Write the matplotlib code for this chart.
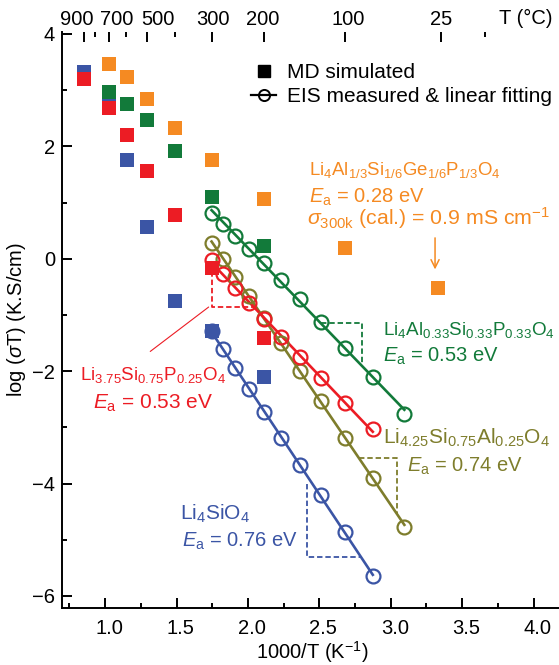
import numpy as np
import matplotlib.pyplot as plt
from matplotlib.lines import Line2D
from matplotlib.transforms import ScaledTranslation

plt.rcParams['font.family'] = 'Liberation Sans'
plt.rcParams['mathtext.fontset'] = 'custom'
plt.rcParams['mathtext.rm'] = 'Liberation Sans'
plt.rcParams['mathtext.it'] = 'Liberation Sans:italic'
plt.rcParams['mathtext.bf'] = 'Liberation Sans:bold'
plt.rcParams['font.size'] = 14.5

# MD simulated points (1000/T, log(sigma T))
md_x = [0.85, 1.03, 1.15, 1.29, 1.49, 1.745, 2.114]
md_blue = [3.33, 2.82, 1.76, 0.57, -0.76, -1.29, -2.10]
md_red = [3.19, 2.69, 2.21, 1.56, 0.78, -0.17, -1.41]
md_green_x = [1.03, 1.15, 1.29, 1.49, 1.745, 2.114]
md_green = [2.96, 2.76, 2.46, 1.92, 1.09, 0.23]
md_orange_x = [1.03, 1.15, 1.29, 1.49, 1.745, 2.114, 2.681, 3.333]
md_orange = [3.46, 3.23, 2.85, 2.33, 1.75, 1.07, 0.19, -0.53]

# EIS measured points
eis_x = [1.745, 1.825, 1.912, 2.004, 2.114, 2.232, 2.364, 2.509, 2.681, 2.874, 3.095]
eis_green = [0.82, 0.62, 0.41, 0.18, -0.08, -0.38, -0.72, -1.12, -1.58, -2.10, -2.76]
eis_olive = [0.28, 0.00, -0.33, -0.66, -1.05, -1.50, -1.99, -2.53, -3.19, -3.90, -4.77]
eis_red = [-0.02, -0.27, -0.52, -0.78, -1.08, -1.40, -1.74, -2.12, -2.57, -3.03]
eis_blue = [-1.29, -1.60, -1.94, -2.32, -2.73, -3.19, -3.67, -4.20, -4.87, -5.64]

top_temps = [900, 700, 500, 300, 200, 100, 25]
top_minor = [800, 600, 400, 0]

c_blue = '#3b55a5'
c_red = '#ec1c24'
c_green = '#127a3a'
c_olive = '#7e7d2c'
c_orange = '#f58a22'

fig = plt.figure(figsize=(5.59, 6.65), dpi=100)
ax = fig.add_axes([61.5 / 559, 57 / 665, (559 - 61.5) / 559, (608 - 32) / 665])

# EIS circles + linear fits
fits = {}
for name, ys, c in [('green', eis_green, c_green), ('olive', eis_olive, c_olive),
                    ('red', eis_red, c_red), ('blue', eis_blue, c_blue)]:
    xs = np.array(eis_x[:len(ys)])
    p = np.polyfit(xs, ys, 1)
    fits[name] = p
    ends = np.array([xs[0], xs[-1]])
    ax.plot(ends, np.polyval(p, ends), color=c, lw=1.9, zorder=2)
    ax.plot(xs, ys, 'o', mfc='none', mec=c, ms=10, mew=1.6, zorder=3)

# MD squares
sq = dict(marker='s', ls='none', ms=10.3, mew=0, zorder=4)
ax.plot(md_x, md_blue, color=c_blue, **sq)
ax.plot(md_x, md_red, color=c_red, **sq)
ax.plot(md_green_x, md_green, color=c_green, **sq)
ax.plot(md_orange_x, md_orange, color=c_orange, **sq)

# slope triangles (dashed)
dash = dict(ls=(0, (3, 1.6)), lw=1.3, zorder=2)
def tri_upper(p, x0, x1, c):
    y0, y1 = np.polyval(p, x0), np.polyval(p, x1)
    ax.plot([x0, x1, x1], [y0, y0, y1], color=c, **dash)
def tri_lower(p, x0, x1, c, ytop=None):
    y0, y1 = np.polyval(p, x0), np.polyval(p, x1)
    if ytop is not None:
        y0 = ytop
    ax.plot([x0, x0, x1], [y0, y1, y1], color=c, **dash)
tri_upper(fits['green'], 2.509, 2.796, c_green)
tri_upper(fits['olive'], 2.778, 3.041, c_olive)
tri_lower(fits['red'], 1.745, 2.04, c_red)
tri_lower(fits['blue'], 2.415, 2.79, c_blue, ytop=-4.0)

# annotations
ax.text(2.427, 1.49, 'Li$_4$Al$_{1/3}$Si$_{1/6}$Ge$_{1/6}$P$_{1/3}$O$_4$', color=c_orange,
        va='baseline', fontsize=13.4)
ax.text(2.427, 0.99, '$E_\\mathrm{a}$ = 0.28 eV', color=c_orange, va='baseline')
ax.text(2.415, 0.60, '$\\sigma_{\\mathrm{300k}}$ (cal.) = 0.9 mS cm$^{-1}$', color=c_orange,
        va='baseline', fontsize=15.3)
ax.annotate('', xy=(3.31, -0.24), xytext=(3.31, 0.42),
            arrowprops=dict(arrowstyle='->', color=c_orange, lw=1.1))

ax.text(2.945, -1.36, 'Li$_4$Al$_{0.33}$Si$_{0.33}$P$_{0.33}$O$_4$', color=c_green,
        va='baseline', fontsize=13.6)
ax.text(2.945, -1.83, '$E_\\mathrm{a}$ = 0.53 eV', color=c_green, va='baseline')

ax.text(2.947, -3.30, 'Li$_{4.25}$Si$_{0.75}$Al$_{0.25}$O$_4$', color=c_olive,
        va='baseline', fontsize=15)
ax.text(3.111, -3.79, '$E_\\mathrm{a}$ = 0.74 eV', color=c_olive, va='baseline')

ax.text(1.335, -2.16, 'Li$_{3.75}$Si$_{0.75}$P$_{0.25}$O$_4$', color=c_red, va='baseline',
        ha='center', fontsize=13.5)
ax.text(1.335, -2.66, '$E_\\mathrm{a}$ = 0.53 eV', color=c_red, va='baseline', ha='center',
        fontsize=15)
ax.annotate('', xy=(1.74, -0.83), xytext=(1.30, -1.68),
            arrowprops=dict(arrowstyle='-', color=c_red, lw=0.8))

ax.text(1.524, -4.65, 'Li$_4$SiO$_4$', color=c_blue, va='baseline', fontsize=15)
ax.text(1.536, -5.12, '$E_\\mathrm{a}$ = 0.76 eV', color=c_blue, va='baseline')

# legend
handles = [Line2D([], [], marker='s', color='k', ls='none', ms=9),
           Line2D([], [], marker='o', color='k', mfc='none', ms=8, mew=1.4, lw=1.6)]
ax.legend(handles, ['MD simulated', 'EIS measured & linear fitting'], loc='upper left',
          bbox_to_anchor=((251 - 61.5) / 497.5, (608 - 63) / 576), frameon=False,
          borderpad=0, borderaxespad=0, handlelength=1.2, handletextpad=0.55,
          labelspacing=0.25, fontsize=15)

# axes
ax.set_xlim(0.694, 4.178)
ax.set_ylim(-6.215, 4.034)
ax.spines['top'].set_visible(False)
ax.spines['right'].set_visible(False)
ax.spines['left'].set_linewidth(1.4)
ax.spines['bottom'].set_linewidth(1.4)
ax.set_xticks([1.0, 1.5, 2.0, 2.5, 3.0, 3.5, 4.0])
ax.set_xticks(np.arange(0.75, 4.2, 0.5), minor=True)
ax.set_yticks([-6, -4, -2, 0, 2, 4])
ax.set_yticks([-5, -3, -1, 1, 3], minor=True)
ax.tick_params(which='both', direction='in', width=1.4)
ax.tick_params(which='major', length=7)
ax.tick_params(which='minor', length=3.5)
ax.tick_params(axis='x', pad=8)
ax.tick_params(axis='y', pad=4.5)
for lab in ax.get_xticklabels():
    lab.set_transform(lab.get_transform() + ScaledTranslation(4 / 100, 0, fig.dpi_scale_trans))

ax.set_xlabel('1000/T (K$^{-1}$)')
ax.xaxis.set_label_coords((312 - 61.5) / 497.5, (608 - 639) / 576)
ax.set_ylabel('log ($\\sigma$T) (K.S/cm)')
ax.yaxis.set_label_coords((28 - 61.5) / 497.5, 0.5)

# top temperature axis
top = ax.secondary_xaxis('top')
top.set_xticks([1000 / (t + 273.15) for t in top_temps], [str(t) for t in top_temps])
top.set_xticks([1000 / (t + 273.15) for t in top_minor], minor=True)
top.spines['top'].set_visible(False)
top.tick_params(which='both', direction='in', width=1.4, pad=2.5)
top.tick_params(which='major', length=7)
top.tick_params(which='minor', length=3.5)
shifts = [-7.5, 8, 10.5, 1.5, -2, 3.5, 0]
for lab, s in zip(top.get_xticklabels(), shifts):
    lab.set_transform(lab.get_transform() + ScaledTranslation(s / 100, 0, fig.dpi_scale_trans))
fig.text(525.5 / 559, 1 - 18 / 665, 'T (°C)', ha='center', va='center', fontsize=14.5)

fig.savefig('out.png', dpi=100)
